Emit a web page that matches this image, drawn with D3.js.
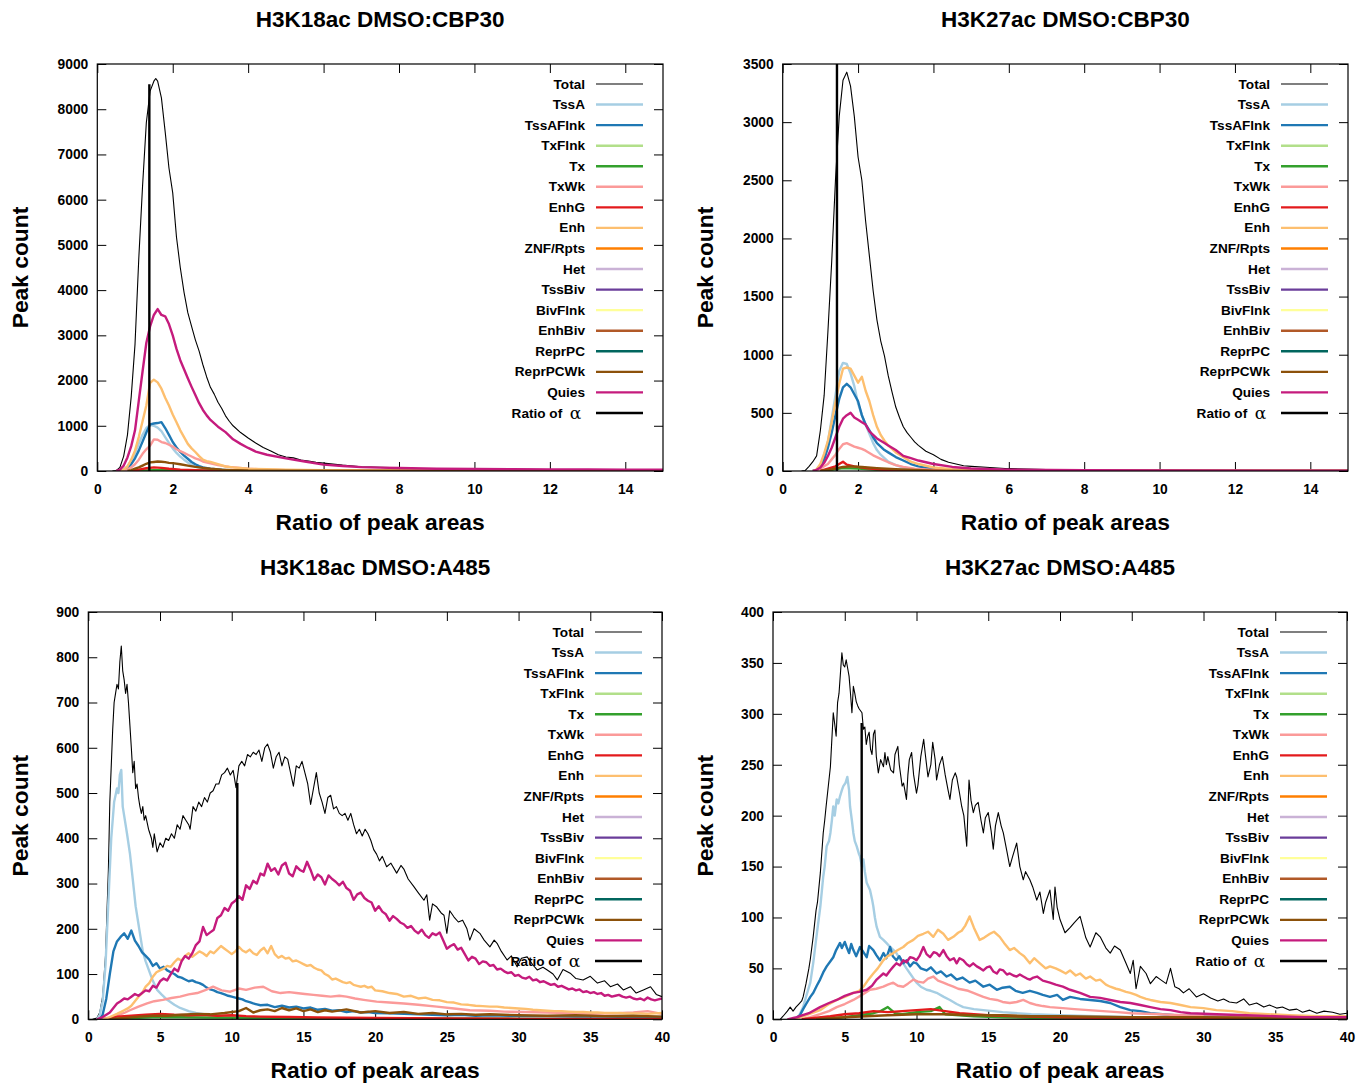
<!DOCTYPE html>
<html><head><meta charset="utf-8">
<script src="https://cdn.jsdelivr.net/npm/d3@7"></script>
<style>
body{margin:0;background:#fff;}
svg{display:block;font-family:"Liberation Sans",Arial,sans-serif;}
</style></head>
<body>
<svg id="chart" width="1372" height="1084"></svg>
<script>
// ---------- data ----------
const categories = ["Total","TssA","TssAFlnk","TxFlnk","Tx","TxWk","EnhG","Enh","ZNF/Rpts","Het","TssBiv","BivFlnk","EnhBiv","ReprPC","ReprPCWk","Quies"];
const colors = ["#000000","#a6cee3","#1f78b4","#b2df8a","#33a02c","#fb9a99","#e31a1c","#fdbf6f","#ff7f00","#cab2d6","#6a3d9a","#ffff99","#b15928","#01665e","#8c510a","#c51b7d"];
const titles = ["H3K18ac DMSO:CBP30","H3K27ac DMSO:CBP30","H3K18ac DMSO:A485","H3K27ac DMSO:A485"];
const xTicks = [[0,2,4,6,8,10,12,14],[0,2,4,6,8,10,12,14],[0,5,10,15,20,25,30,35,40],[0,5,10,15,20,25,30,35,40]];
const yTicks = [[0,1000,2000,3000,4000,5000,6000,7000,8000,9000],[0,500,1000,1500,2000,2500,3000,3500],[0,100,200,300,400,500,600,700,800,900],[0,50,100,150,200,250,300,350,400]];
const xMax = [15,15,40,40];
const ratioX = [1.38,1.44,10.39,6.18];
const ratioY = [8550,3500,522,291];

// Panel 1: H3K18ac DMSO:CBP30
const p1_Total = [[0.4,0],[0.5,10],[0.6,80],[0.7,330],[0.8,800],[0.9,1650],[1.0,2800],[1.1,4700],[1.2,6300],[1.3,7700],[1.4,8400],[1.5,8620],[1.55,8680],[1.6,8620],[1.7,8250],[1.8,7500],[1.9,6700],[2.0,6150],[2.1,5170],[2.2,4500],[2.3,3950],[2.4,3500],[2.5,3200],[2.6,2900],[2.7,2650],[2.8,2350],[2.9,2080],[3.0,1850],[3.1,1700],[3.2,1520],[3.3,1380],[3.4,1220],[3.5,1100],[3.6,1000],[3.8,850],[4.0,730],[4.2,620],[4.4,520],[4.6,440],[4.8,360],[5.0,310],[5.2,290],[5.4,240],[5.6,220],[5.8,190],[6.0,175],[6.5,130],[7.0,95],[7.5,80],[8.0,70],[8.5,55],[9.0,50],[10,40],[11,35],[12,30],[13,25],[14,22],[15,20]];
const p1_TssA = [[0.6,0],[0.7,30],[0.8,100],[0.9,230],[1.0,400],[1.1,600],[1.2,800],[1.3,950],[1.4,1020],[1.5,1000],[1.6,960],[1.7,880],[1.8,750],[1.9,620],[2.0,500],[2.1,400],[2.2,320],[2.3,250],[2.4,190],[2.5,140],[2.6,100],[2.8,60],[3.0,35],[3.5,10],[5,0],[15,0]];
const p1_TssAFlnk = [[0.6,0],[0.7,20],[0.8,60],[0.9,150],[1.0,280],[1.1,450],[1.2,650],[1.3,850],[1.4,1030],[1.5,1050],[1.6,1060],[1.7,1080],[1.8,950],[1.9,800],[2.0,640],[2.1,520],[2.2,420],[2.3,340],[2.4,270],[2.5,200],[2.6,150],[2.7,110],[2.8,80],[3.0,50],[3.5,15],[5,3],[15,0]];
const p1_Tx = [[1.0,0],[1.5,20],[2.0,15],[3.0,5],[4.0,0],[15,0]];
const p1_TxWk = [[0.7,0],[0.8,30],[0.9,80],[1.0,150],[1.1,250],[1.2,380],[1.3,480],[1.4,560],[1.5,700],[1.6,690],[1.7,640],[1.8,620],[1.9,580],[2.0,540],[2.1,480],[2.2,440],[2.3,400],[2.4,360],[2.5,320],[2.6,280],[2.7,250],[2.8,210],[3.0,170],[3.2,130],[3.5,90],[4.0,50],[4.5,30],[5,20],[6,10],[8,5],[15,2]];
const p1_EnhG = [[0.9,0],[1.1,30],[1.3,60],[1.5,80],[1.7,70],[1.9,50],[2.2,30],[2.6,15],[3,5],[4,0],[15,0]];
const p1_Enh = [[0.6,0],[0.7,30],[0.8,100],[0.9,250],[1.0,450],[1.1,750],[1.2,1100],[1.3,1450],[1.4,1950],[1.5,2020],[1.6,1960],[1.7,1820],[1.8,1620],[1.9,1450],[2.0,1250],[2.1,1080],[2.2,900],[2.3,750],[2.4,600],[2.5,500],[2.6,420],[2.7,330],[2.8,250],[2.9,220],[3.0,200],[3.2,150],[3.4,100],[3.6,80],[4.0,50],[4.5,40],[5.0,30],[6,20],[8,10],[10,8],[15,5]];
const p1_ReprPCWk = [[0.8,0],[0.9,20],[1.0,50],[1.1,80],[1.2,120],[1.3,160],[1.4,190],[1.5,200],[1.6,210],[1.7,205],[1.8,195],[1.9,180],[2.0,175],[2.2,150],[2.4,120],[2.6,90],[2.8,70],[3.0,50],[3.3,30],[3.6,20],[4,10],[5,5],[15,0]];
const p1_Quies = [[0.5,0],[0.6,30],[0.7,120],[0.8,300],[0.9,550],[1.0,900],[1.1,1550],[1.2,2200],[1.3,2830],[1.4,3200],[1.5,3450],[1.6,3580],[1.7,3450],[1.8,3420],[1.9,3250],[2.0,3000],[2.1,2700],[2.2,2450],[2.3,2250],[2.4,2050],[2.5,1860],[2.6,1680],[2.7,1500],[2.8,1350],[2.9,1230],[3.0,1130],[3.2,980],[3.4,860],[3.6,700],[3.8,600],[4.0,510],[4.2,430],[4.5,360],[5.0,280],[5.5,210],[6.0,140],[6.5,110],[7.0,85],[7.5,75],[8.0,65],[9,50],[10,45],[11,40],[12,35],[13,35],[14,30],[15,30]];

// Panel 2: H3K27ac DMSO:CBP30
const p2_Total = [[0.5,0],[0.6,5],[0.7,40],[0.8,80],[0.9,130],[1.0,350],[1.1,650],[1.2,1200],[1.3,1800],[1.4,2500],[1.5,3050],[1.6,3360],[1.7,3430],[1.8,3310],[1.9,3050],[2.0,2700],[2.1,2500],[2.2,2150],[2.3,1850],[2.4,1550],[2.5,1300],[2.6,1120],[2.7,990],[2.8,820],[2.9,680],[3.0,550],[3.1,460],[3.2,380],[3.3,330],[3.4,290],[3.5,250],[3.6,220],[3.8,170],[4.0,140],[4.2,100],[4.4,75],[4.6,60],[4.8,45],[5.0,40],[5.5,30],[6,20],[7,12],[8,8],[10,5],[12,4],[15,3]];
const p2_TssA = [[0.8,0],[0.9,10],[1.0,50],[1.1,130],[1.2,250],[1.3,450],[1.4,650],[1.5,860],[1.6,930],[1.7,920],[1.8,840],[1.9,730],[2.0,580],[2.1,480],[2.2,400],[2.3,320],[2.4,240],[2.5,180],[2.6,140],[2.7,110],[2.8,80],[3.0,50],[3.2,30],[3.5,15],[4,5],[5,0],[15,0]];
const p2_TssAFlnk = [[0.8,0],[0.9,10],[1.0,40],[1.1,100],[1.2,200],[1.3,330],[1.4,480],[1.5,620],[1.6,720],[1.7,750],[1.8,720],[1.9,660],[2.0,600],[2.1,480],[2.2,400],[2.3,350],[2.4,290],[2.5,240],[2.6,210],[2.7,180],[2.8,160],[3.0,120],[3.2,90],[3.4,60],[3.6,40],[4,15],[5,3],[6,0],[15,0]];
const p2_Tx = [[1.0,0],[1.3,10],[1.6,25],[2.0,20],[2.5,10],[3,3],[4,0],[15,0]];
const p2_TxWk = [[0.9,0],[1.0,20],[1.1,40],[1.2,60],[1.3,100],[1.4,140],[1.5,190],[1.6,230],[1.7,240],[1.8,225],[1.9,210],[2.0,200],[2.1,190],[2.2,175],[2.3,155],[2.4,135],[2.5,120],[2.6,105],[2.8,75],[3.0,50],[3.2,35],[3.5,20],[4,8],[5,0],[15,0]];
const p2_EnhG = [[1.0,0],[1.2,20],[1.4,40],[1.5,60],[1.6,80],[1.7,55],[1.9,40],[2.2,25],[2.6,12],[3,5],[4,0],[15,0]];
const p2_Enh = [[0.8,0],[0.9,15],[1.0,60],[1.1,150],[1.2,260],[1.3,420],[1.4,590],[1.5,750],[1.6,880],[1.7,890],[1.8,880],[1.9,820],[2.0,760],[2.1,810],[2.2,690],[2.3,600],[2.4,480],[2.5,380],[2.6,310],[2.7,260],[2.8,220],[2.9,190],[3.0,160],[3.2,120],[3.4,80],[3.6,60],[4.0,30],[4.5,15],[5,8],[6,3],[8,0],[15,0]];
const p2_ReprPCWk = [[1.0,0],[1.3,15],[1.6,35],[1.8,40],[2.1,35],[2.5,25],[3,15],[3.5,8],[4,3],[5,0],[15,0]];
const p2_Quies = [[0.8,0],[0.9,10],[1.0,30],[1.1,70],[1.2,130],[1.3,200],[1.4,290],[1.5,380],[1.6,450],[1.7,480],[1.8,500],[1.9,460],[2.0,440],[2.1,420],[2.2,400],[2.3,340],[2.4,310],[2.5,280],[2.6,260],[2.7,240],[2.8,220],[2.9,200],[3.0,180],[3.2,130],[3.4,110],[3.6,90],[3.8,75],[4.0,60],[4.5,35],[5,22],[6,12],[8,6],[10,4],[15,2]];

// Panel 3: H3K18ac DMSO:A485
const p3_Total = [[0.3,0],[0.6,3],[0.8,15],[1.0,50],[1.2,140],[1.4,330],[1.5,480],[1.6,560],[1.7,640],[1.8,700],[1.9,720],[2.0,740],[2.1,730],[2.2,790],[2.3,825],[2.4,770],[2.5,750],[2.6,720],[2.7,740],[2.8,700],[2.9,650],[3.0,600],[3.1,545],[3.2,570],[3.3,510],[3.4,520],[3.5,490],[3.6,470],[3.7,455],[3.8,470],[3.9,440],[4.0,450],[4.2,420],[4.4,400],[4.5,380],[4.6,410],[4.8,370],[5.0,390],[5.2,380],[5.4,400],[5.6,395],[5.8,410],[6.0,400],[6.2,430],[6.4,420],[6.6,450],[6.8,440],[7.0,430],[7.1,420],[7.3,470],[7.5,460],[7.7,480],[7.9,470],[8.1,490],[8.3,480],[8.5,500],[8.7,505],[8.9,520],[9.1,520],[9.3,540],[9.5,545],[9.7,555],[9.9,540],[10.1,550],[10.3,512],[10.5,560],[10.7,570],[10.9,560],[11.1,585],[11.3,580],[11.5,590],[11.7,585],[11.9,595],[12.1,570],[12.3,600],[12.5,608],[12.7,590],[12.9,555],[13.1,580],[13.3,590],[13.5,560],[13.7,580],[13.9,575],[14.1,545],[14.3,515],[14.5,560],[14.7,555],[14.9,570],[15.1,545],[15.3,520],[15.5,475],[15.7,510],[15.9,545],[16.1,500],[16.3,480],[16.5,455],[16.7,490],[16.9,495],[17.1,465],[17.3,470],[17.5,455],[17.7,450],[17.9,455],[18.1,440],[18.3,455],[18.5,430],[18.7,410],[18.9,420],[19.1,405],[19.3,420],[19.5,410],[19.7,395],[19.9,375],[20.1,365],[20.3,350],[20.5,360],[20.8,337],[21.1,345],[21.5,323],[21.8,340],[22.0,332],[22.3,310],[22.7,293],[23.0,280],[23.4,263],[23.6,275],[23.8,219],[24.0,255],[24.3,248],[24.6,235],[24.8,230],[25.0,190],[25.2,240],[25.5,226],[25.8,215],[26.1,219],[26.4,200],[26.6,175],[26.9,200],[27.3,190],[27.6,175],[28.0,160],[28.3,175],[28.5,168],[28.8,150],[29.2,131],[29.5,140],[29.9,116],[30.2,135],[30.6,138],[31.0,120],[31.3,109],[31.7,115],[32.0,109],[32.4,100],[32.7,87],[33.1,110],[33.6,102],[34.0,90],[34.5,87],[35.0,95],[35.5,80],[36.0,85],[36.4,72],[36.9,78],[37.3,65],[37.8,72],[38.2,58],[38.7,65],[39.2,72],[39.6,55],[40,50]];
const p3_TssA = [[0.6,0],[0.8,10],[1.0,40],[1.2,120],[1.4,260],[1.6,400],[1.8,480],[2.0,510],[2.1,500],[2.2,540],[2.3,551],[2.4,470],[2.5,450],[2.7,410],[2.9,367],[3.1,310],[3.3,250],[3.5,210],[3.6,190],[3.8,150],[4.0,128],[4.3,102],[4.5,85],[4.8,65],[5.1,55],[5.5,43],[6.0,32],[6.4,25],[7.0,18],[7.5,14],[8.5,9],[10,5],[12,3],[15,2],[20,1],[40,0]];
const p3_TssAFlnk = [[0.8,0],[1.0,10],[1.25,45],[1.5,100],[1.75,150],[2.0,172],[2.25,182],[2.5,190],[2.75,178],[3.0,196],[3.25,174],[3.5,162],[3.75,148],[4.0,140],[4.25,132],[4.5,118],[4.75,124],[5.0,112],[5.25,116],[5.5,108],[5.75,104],[6.0,100],[6.25,94],[6.5,92],[6.75,88],[7.0,84],[7.25,86],[7.5,82],[7.75,80],[8.0,76],[8.25,70],[8.5,66],[8.75,64],[9.0,60],[9.25,58],[9.5,55],[9.75,52],[10.0,50],[10.25,48],[10.5,46],[10.75,44],[11.0,40],[11.25,38],[11.5,35],[11.75,33],[12.0,31],[12.5,32],[13.0,27],[13.5,30],[14.0,26],[14.5,28],[15.0,24],[15.5,26],[16.0,21],[16.5,23],[17.0,19],[17.5,20],[18.0,16],[18.5,18],[19.0,15],[19.5,16],[20,14],[21,13],[22,12],[23,11],[24,10],[25,9],[26,10],[27,8],[28,9],[30,7],[32,7],[34,6],[36,6],[38,5],[40,5]];
const p3_Tx = [[1.5,0],[3,3],[5,5],[8,4],[12,3],[20,2],[30,1],[40,1]];
const p3_TxWk = [[1.0,0],[1.5,3],[2.0,8],[2.5,14],[2.9,20],[3.5,28],[4.1,35],[4.6,40],[5.2,43],[5.8,47],[6.4,50],[7.0,55],[7.6,58],[8.2,65],[8.7,72],[9.3,64],[9.9,61],[10.5,68],[11.0,65],[11.6,70],[12.2,72],[12.8,62],[13.4,58],[14.0,60],[14.5,58],[15.1,56],[15.7,54],[16.3,52],[16.9,50],[17.5,52],[18.0,50],[18.6,46],[19.2,43],[20.1,39],[21,37],[22,35],[23,32],[24.3,28],[25.5,24],[26.6,20],[28,19],[29,17],[30.5,16],[32,15],[33.5,14],[35,12],[36.5,13],[38,15],[39,18],[40,12]];
const p3_EnhG = [[1.0,0],[1.5,3],[2,6],[3,8],[4,10],[5,12],[6,10],[7,9],[8,10],[9,8],[10,9],[11,7],[12,6],[14,5],[16,4],[20,3],[25,2],[30,1],[40,1]];
const p3_Enh = [[1.0,0],[1.5,5],[2.0,12],[2.25,16],[2.5,20],[2.75,24],[3.0,30],[3.25,40],[3.5,50],[3.75,58],[4.0,72],[4.25,80],[4.5,94],[4.75,104],[5.0,108],[5.25,112],[5.5,118],[5.75,116],[6.0,126],[6.25,134],[6.5,130],[6.75,140],[7.0,146],[7.25,138],[7.5,144],[7.75,150],[8.0,146],[8.25,140],[8.5,150],[8.75,146],[9.0,154],[9.25,162],[9.5,156],[9.75,150],[10.0,144],[10.25,150],[10.5,160],[10.75,152],[11.0,148],[11.25,154],[11.5,146],[11.75,142],[12.0,152],[12.25,158],[12.5,146],[12.75,162],[13.0,144],[13.25,136],[13.5,140],[13.75,134],[14.0,136],[14.25,128],[14.5,130],[14.75,126],[15.0,122],[15.25,118],[15.5,120],[15.75,114],[16.0,110],[16.25,108],[16.5,100],[16.75,96],[17.0,88],[17.25,90],[17.5,86],[17.75,82],[18.0,80],[18.25,82],[18.5,76],[18.75,74],[19.0,72],[19.25,74],[19.5,70],[19.75,72],[20.0,64],[20.5,62],[21.0,58],[21.5,56],[22.0,50],[22.5,52],[23.0,46],[23.5,48],[24.0,43],[24.5,42],[25.0,38],[25.5,37],[26.0,33],[26.5,32],[27.0,30],[27.5,29],[28.0,28],[28.5,28],[29.0,26],[29.5,25],[30.0,24],[30.5,23],[31.0,21],[31.5,20],[32.0,19],[32.5,18],[33.0,18],[33.5,17],[34.0,16],[34.5,16],[35.0,15],[35.5,15],[36.0,14],[36.5,14],[37.0,14],[37.5,13],[38.0,13],[38.5,13],[39.0,12],[39.5,13],[40.0,14]];
const p3_ReprPCWk = [[1.5,0],[2.5,3],[3.5,6],[4.5,8],[5.5,8],[6.5,10],[7.5,12],[8.5,11],[9.5,14],[10.5,18],[11.0,25],[11.5,15],[12.0,20],[12.5,22],[13.0,18],[13.5,25],[14.0,20],[14.5,24],[15.0,18],[15.5,22],[16,16],[16.5,20],[17,17],[18,22],[19,15],[20,18],[21,14],[22,16],[23,12],[24,14],[25,11],[26,12],[27,10],[28,11],[30,9],[32,8],[34,9],[36,7],[38,8],[40,6]];
const p3_Quies = [[0.6,0],[1.0,5],[1.5,15],[2.0,35],[2.25,40],[2.5,46],[2.75,44],[3.0,50],[3.25,56],[3.5,52],[3.75,58],[4.0,64],[4.25,62],[4.5,74],[4.75,70],[5.0,84],[5.25,90],[5.5,86],[5.75,100],[6.0,112],[6.25,106],[6.5,128],[6.75,140],[7.0,134],[7.25,146],[7.5,164],[7.75,172],[8.0,204],[8.25,186],[8.5,192],[8.75,198],[9.0,224],[9.25,230],[9.5,246],[9.75,240],[10.0,256],[10.25,262],[10.5,272],[10.75,264],[11.0,296],[11.25,288],[11.5,306],[11.75,300],[12.0,322],[12.25,318],[12.5,344],[12.75,328],[13.0,334],[13.25,320],[13.5,340],[13.75,346],[14.0,322],[14.25,316],[14.5,338],[14.75,330],[15.0,326],[15.25,348],[15.5,330],[15.75,308],[16.0,320],[16.25,314],[16.5,298],[16.75,318],[17.0,310],[17.25,304],[17.5,296],[17.75,304],[18.0,290],[18.25,284],[18.5,264],[18.75,276],[19.0,280],[19.25,268],[19.5,262],[19.75,258],[20.0,240],[20.25,250],[20.5,238],[20.75,232],[21.0,218],[21.25,228],[21.5,222],[21.75,214],[22.0,210],[22.25,202],[22.5,206],[22.75,196],[23.0,190],[23.25,198],[23.5,186],[23.75,180],[24.0,190],[24.25,186],[24.5,192],[24.75,174],[25.0,156],[25.25,162],[25.5,166],[25.75,154],[26.0,158],[26.25,144],[26.5,130],[26.75,138],[27.0,134],[27.25,122],[27.5,128],[27.75,126],[28.0,118],[28.25,120],[28.5,110],[28.75,112],[29.0,106],[29.25,102],[29.5,104],[29.75,96],[30.0,98],[30.25,92],[30.5,90],[30.75,94],[31.0,86],[31.25,88],[31.5,82],[31.75,84],[32.0,80],[32.25,76],[32.5,78],[32.75,72],[33.0,74],[33.25,70],[33.5,66],[33.75,68],[34.0,64],[34.25,66],[34.5,60],[34.75,62],[35.0,58],[35.25,60],[35.5,56],[35.75,58],[36.0,52],[36.25,54],[36.5,50],[36.75,52],[37.0,54],[37.25,50],[37.5,48],[37.75,50],[38.0,46],[38.25,44],[38.5,46],[38.75,42],[39.0,48],[39.25,44],[39.5,42],[39.75,44],[40.0,46]];

// Panel 4: H3K27ac DMSO:A485
const p4_Total = [[0.5,0],[0.7,3],[1.0,8],[1.2,12],[1.4,8],[1.6,12],[1.8,15],[2.0,18],[2.1,22],[2.3,35],[2.5,50],[2.6,59],[2.8,81],[3.0,107],[3.1,115],[3.3,144],[3.5,183],[3.6,195],[3.7,209],[3.9,235],[4.0,248],[4.2,301],[4.3,290],[4.4,278],[4.5,311],[4.6,320],[4.7,340],[4.8,360],[4.9,348],[5.0,346],[5.1,353],[5.2,345],[5.3,337],[5.4,320],[5.5,301],[5.6,327],[5.7,320],[5.8,312],[5.9,308],[6.0,305],[6.2,301],[6.3,285],[6.4,287],[6.5,270],[6.6,278],[6.7,282],[6.8,265],[6.9,260],[7.0,280],[7.1,284],[7.2,258],[7.34,242],[7.5,255],[7.7,248],[7.8,262],[7.9,250],[8.0,258],[8.2,245],[8.4,242],[8.5,260],[8.7,268],[8.8,250],[9.0,229],[9.1,232],[9.3,216],[9.4,240],[9.5,255],[9.66,262],[9.8,240],[10.0,222],[10.1,230],[10.3,258],[10.5,275],[10.6,262],[10.8,238],[11.0,250],[11.13,272],[11.3,255],[11.4,235],[11.6,250],[11.8,258],[12.0,240],[12.2,225],[12.33,216],[12.5,235],[12.7,242],[12.8,238],[13.0,222],[13.15,209],[13.3,200],[13.5,170],[13.66,235],[13.8,215],[13.96,203],[14.1,210],[14.3,213],[14.5,195],[14.66,183],[14.8,198],[15.0,203],[15.2,185],[15.35,167],[15.5,190],[15.7,203],[15.9,190],[16.05,183],[16.3,165],[16.5,150],[16.7,160],[16.98,173],[17.2,150],[17.44,137],[17.6,145],[17.9,137],[18.1,130],[18.38,117],[18.6,125],[18.84,104],[19.0,115],[19.3,127],[19.53,98],[19.65,130],[19.8,110],[20.0,98],[20.35,85],[20.7,90],[21.0,95],[21.4,101],[21.8,80],[22.1,71],[22.5,85],[22.8,81],[23.2,70],[23.5,65],[23.8,72],[24.2,68],[24.6,55],[24.9,45],[25.1,58],[25.3,30],[25.6,52],[26.0,45],[26.3,35],[26.7,42],[27.0,39],[27.4,35],[27.7,50],[28.0,32],[28.3,30],[28.6,26],[29.0,30],[29.5,22],[30.0,25],[30.5,21],[31.0,18],[31.4,20],[31.8,17],[32.3,16],[32.8,20],[33.2,14],[33.7,16],[34.2,12],[34.6,14],[35.1,11],[35.5,12],[36.0,9],[36.5,10],[36.9,7],[37.4,9],[37.9,6],[38.4,8],[39.0,7],[39.5,5],[40,6]];
const p4_TssA = [[1.5,0],[1.8,3],[2.1,12],[2.3,22],[2.6,36],[2.8,55],[3.0,78],[3.2,100],[3.3,111],[3.5,140],[3.6,150],[3.74,170],[3.9,175],[4.0,183],[4.1,195],[4.2,209],[4.3,200],[4.44,216],[4.55,212],[4.67,219],[4.8,225],[4.9,229],[5.05,232],[5.18,238],[5.3,225],[5.37,209],[5.5,195],[5.6,183],[5.7,175],[5.83,170],[6.0,162],[6.06,160],[6.2,150],[6.3,157],[6.4,145],[6.53,134],[6.76,127],[6.9,118],[6.99,111],[7.1,100],[7.22,91],[7.45,81],[7.69,78],[7.9,75],[8.16,71],[8.4,68],[8.6,65],[8.8,60],[9.08,55],[9.3,50],[9.55,45],[9.8,40],[10.0,36],[10.3,32],[10.7,29],[11.0,28],[11.4,26],[11.9,22],[12.33,19],[12.8,15],[13.26,12],[14.0,10],[14.66,9],[16,7],[18,5],[20,4],[25,2],[30,1],[40,0]];
const p4_TssAFlnk = [[1.5,0],[1.88,4],[2.1,10],[2.35,16],[2.6,22],[2.81,26],[3.05,33],[3.28,39],[3.5,46],[3.74,52],[4.0,57],[4.2,61],[4.4,68],[4.67,75],[4.8,70],[5.0,76],[5.13,71],[5.3,65],[5.45,74],[5.6,68],[5.8,62],[6.06,71],[6.3,66],[6.53,61],[6.7,72],[6.99,68],[7.2,63],[7.45,58],[7.7,65],[7.9,60],[8.16,71],[8.35,62],[8.6,58],[8.8,62],[9.08,55],[9.3,58],[9.55,52],[9.8,56],[10.0,55],[10.3,50],[10.7,48],[11.0,51],[11.4,45],[11.7,47],[12.1,42],[12.4,44],[12.8,39],[13.2,41],[13.7,36],[14.1,38],[14.66,32],[15.1,34],[15.6,29],[16.0,31],[16.5,32],[16.9,28],[17.4,26],[17.9,28],[18.4,26],[18.8,24],[19.3,22],[19.8,24],[20.2,19],[20.7,22],[21.4,20],[22.1,19],[22.8,18],[23.5,16],[24.2,12],[24.9,9],[25.6,8],[26.3,6],[28,4],[30,3],[33,2],[36,2],[40,1]];
const p4_Tx = [[3,0],[5,2],[6,4],[7,6],[7.5,8],[8,12],[8.5,6],[9,5],[10,7],[11,8],[11.6,12],[12,5],[13,4],[14,3],[16,2],[20,1],[30,0],[40,0]];
const p4_TxWk = [[2.0,0],[2.6,2],[3.28,5],[3.9,8],[4.44,12],[5.0,15],[5.6,19],[6.2,24],[6.76,29],[7.2,30],[7.69,32],[8.0,34],[8.38,36],[8.7,33],[9.08,32],[9.4,35],[9.78,39],[10.1,37],[10.48,36],[10.8,40],[11.17,42],[11.5,38],[11.87,36],[12.2,34],[12.57,32],[12.9,30],[13.26,29],[13.6,28],[13.96,26],[14.3,24],[14.66,22],[15.1,20],[15.6,19],[16.0,17],[16.5,16],[16.98,17],[17.44,19],[17.9,16],[18.4,14],[18.8,13],[19.3,12],[20.2,11],[21,10],[22,9],[23,8],[24,7],[25,6],[27,5],[30,3],[33,2],[36,2],[40,1]];
const p4_EnhG = [[2,0],[4,3],[5,5],[6,6],[7,8],[8,7],[9,8],[10,9],[11,10],[12,8],[13,6],[14,5],[15,4],[17,3],[20,2],[25,1],[40,0]];
const p4_Enh = [[1.5,0],[2.11,3],[2.7,6],[3.28,9],[3.8,14],[4.44,19],[5.0,22],[5.6,26],[6.0,28],[6.3,32],[6.6,38],[6.99,45],[7.3,50],[7.69,58],[8.0,62],[8.38,65],[8.7,68],[9.08,71],[9.4,75],[9.78,78],[10.1,82],[10.48,84],[10.8,86],[11.17,81],[11.5,88],[11.87,84],[12.2,78],[12.57,81],[12.9,85],[13.15,87],[13.4,92],[13.7,101],[14.0,90],[14.4,78],[14.7,80],[15.12,84],[15.4,86],[15.8,81],[16.1,75],[16.5,68],[16.8,70],[17.2,65],[17.5,62],[17.9,55],[18.2,60],[18.6,55],[19.0,50],[19.3,52],[19.7,50],[20.0,48],[20.4,45],[20.7,48],[21.1,43],[21.4,45],[21.8,40],[22.1,42],[22.5,38],[22.8,39],[23.2,34],[23.5,32],[23.9,30],[24.2,29],[24.6,27],[24.9,26],[25.3,24],[25.6,22],[26.0,20],[26.3,19],[27.0,17],[27.7,16],[28.4,14],[29.1,12],[30,11],[30.9,9],[32,8],[33.2,6],[34.5,5],[36,4],[38,3],[40,3]];
const p4_ReprPCWk = [[3,0],[5,2],[8,4],[10,5],[12,5],[14,4],[16,4],[18,3],[20,3],[25,2],[30,2],[40,1]];
const p4_Quies = [[1.0,0],[1.65,2],[2.5,6],[3.28,12],[3.9,16],[4.44,19],[5.0,23],[5.6,26],[6.0,27],[6.53,29],[6.9,33],[7.22,39],[7.45,42],[7.69,45],[7.9,43],[8.16,48],[8.4,52],[8.6,55],[8.85,53],[9.08,58],[9.3,56],[9.55,61],[9.8,60],[10.0,58],[10.2,62],[10.48,71],[10.7,64],[10.94,61],[11.2,66],[11.4,65],[11.6,62],[11.87,68],[12.1,62],[12.33,58],[12.6,60],[12.8,55],[13.0,60],[13.26,58],[13.5,54],[13.7,52],[13.95,55],[14.2,52],[14.45,50],[14.66,48],[14.9,51],[15.12,52],[15.35,47],[15.6,45],[15.8,49],[16.05,48],[16.3,44],[16.5,45],[16.75,43],[16.98,42],[17.2,44],[17.44,42],[17.7,40],[17.9,39],[18.15,41],[18.4,42],[18.8,38],[19.3,36],[19.7,34],[20.2,32],[20.7,29],[21.4,26],[22.1,22],[22.8,21],[23.5,19],[24.2,17],[24.9,16],[25.6,14],[26.3,12],[27.0,10],[27.7,9],[28.4,7],[29.1,6],[30.9,5],[33,4],[35,3],[37,2],[40,2]];

// ---------- layout ----------
const panelData = [
  {Total:p1_Total,TssA:p1_TssA,TssAFlnk:p1_TssAFlnk,Tx:p1_Tx,TxWk:p1_TxWk,EnhG:p1_EnhG,Enh:p1_Enh,ReprPCWk:p1_ReprPCWk,Quies:p1_Quies},
  {Total:p2_Total,TssA:p2_TssA,TssAFlnk:p2_TssAFlnk,Tx:p2_Tx,TxWk:p2_TxWk,EnhG:p2_EnhG,Enh:p2_Enh,ReprPCWk:p2_ReprPCWk,Quies:p2_Quies},
  {Total:p3_Total,TssA:p3_TssA,TssAFlnk:p3_TssAFlnk,Tx:p3_Tx,TxWk:p3_TxWk,EnhG:p3_EnhG,Enh:p3_Enh,ReprPCWk:p3_ReprPCWk,Quies:p3_Quies},
  {Total:p4_Total,TssA:p4_TssA,TssAFlnk:p4_TssAFlnk,Tx:p4_Tx,TxWk:p4_TxWk,EnhG:p4_EnhG,Enh:p4_Enh,ReprPCWk:p4_ReprPCWk,Quies:p4_Quies}
];
const boxes = [
  {l:97.3, r:663, t:64, b:471, titleY:19, labX:20},
  {l:782.7, r:1348, t:64, b:471, titleY:19, labX:705},
  {l:88.3, r:662, t:612, b:1019.3, titleY:567, labX:20},
  {l:773, r:1347, t:612, b:1019.3, titleY:567, labX:705}
];

const svg = d3.select("#chart");
const TICK = 9;
const FONT = "'Liberation Sans',Arial,sans-serif";

boxes.forEach((bx, i) => {
  const x = d3.scaleLinear().domain([0, xMax[i]]).range([bx.l, bx.r]);
  const yT = yTicks[i];
  const y = d3.scaleLinear().domain([0, yT[yT.length-1]]).range([bx.b, bx.t]);
  const g = svg.append("g");
  const cx = (bx.l + bx.r) / 2;

  g.append("text").attr("x", cx).attr("y", bx.titleY).attr("text-anchor","middle")
    .attr("dominant-baseline","central").attr("font-size",22.5).attr("font-weight","bold").text(titles[i]);
  g.append("text").attr("x", cx).attr("y", bx.b + 51).attr("text-anchor","middle")
    .attr("dominant-baseline","central").attr("font-size",22.8).attr("font-weight","bold").text("Ratio of peak areas");
  const ly = (bx.t + bx.b) / 2;
  g.append("text").attr("transform",`translate(${bx.labX},${ly}) rotate(-90)`).attr("text-anchor","middle")
    .attr("dominant-baseline","central").attr("font-size",22.8).attr("font-weight","bold").text("Peak count");

  const axB = d3.axisBottom(x).tickValues(xTicks[i]).tickSize(-TICK).tickPadding(13).tickFormat(d3.format("d"));
  const axT = d3.axisTop(x).tickValues(xTicks[i]).tickSize(-TICK).tickFormat("");
  const axL = d3.axisLeft(y).tickValues(yT).tickSize(-TICK).tickPadding(9).tickFormat(d3.format("d"));
  const axR = d3.axisRight(y).tickValues(yT).tickSize(-TICK).tickFormat("");
  const styleAxis = sel => {
    sel.select(".domain").remove();
    sel.selectAll("line").attr("stroke","#000").attr("stroke-width",1);
    sel.selectAll("text").attr("font-size",13.8).attr("font-weight","bold").attr("fill","#000")
      .attr("font-family",FONT);
  };
  g.append("g").attr("transform",`translate(0,${bx.b})`).call(axB).call(styleAxis);
  g.append("g").attr("transform",`translate(0,${bx.t})`).call(axT).call(styleAxis);
  g.append("g").attr("transform",`translate(${bx.l},0)`).call(axL).call(styleAxis);
  g.append("g").attr("transform",`translate(${bx.r},0)`).call(axR).call(styleAxis);

  const cid = "clip" + i;
  svg.append("clipPath").attr("id", cid).append("rect")
    .attr("x", bx.l).attr("y", bx.t).attr("width", bx.r - bx.l).attr("height", bx.b - bx.t);
  const plot = g.append("g").attr("clip-path", `url(#${cid})`);
  const line = d3.line().x(d => x(d[0])).y(d => y(d[1]));
  categories.forEach((c, k) => {
    const data = panelData[i][c];
    if (!data) return;
    plot.append("path").datum(data).attr("d", line).attr("fill","none")
      .attr("stroke", colors[k]).attr("stroke-width", c === "Total" ? 1.1 : 2.4)
      .attr("stroke-linejoin","round");
  });
  plot.append("line").attr("x1", x(ratioX[i])).attr("x2", x(ratioX[i]))
    .attr("y1", y(0)).attr("y2", y(ratioY[i])).attr("stroke","#000").attr("stroke-width",2.4);

  g.append("rect").attr("x", bx.l).attr("y", bx.t).attr("width", bx.r - bx.l).attr("height", bx.b - bx.t)
    .attr("fill","none").attr("stroke","#000").attr("stroke-width",1.2);

  const lg = g.append("g");
  const rowH = 20.56;
  const names = categories.concat(["Ratio of"]);
  names.forEach((nm, k) => {
    const yy = bx.t + 20 + k * rowH;
    const t = lg.append("text").attr("x", bx.r - 78).attr("y", yy).attr("text-anchor","end")
      .attr("dominant-baseline","central").attr("font-size",13.6).attr("font-weight","bold");
    if (k < categories.length) {
      t.text(nm);
      lg.append("line").attr("x1", bx.r - 67).attr("x2", bx.r - 20).attr("y1", yy).attr("y2", yy)
        .attr("stroke", colors[k]).attr("stroke-width", k === 0 ? 1.1 : 2.4);
    } else {
      t.append("tspan").text("Ratio of\u00A0\u00A0");
      t.append("tspan").attr("font-weight","normal").attr("font-size",17).attr("font-family","'DejaVu Serif',serif").text("\u03B1");
      t.append("tspan").text("\u00A0");
      lg.append("line").attr("x1", bx.r - 67).attr("x2", bx.r - 20).attr("y1", yy).attr("y2", yy)
        .attr("stroke", "#000").attr("stroke-width", 2.4);
    }
  });
});
</script>
</body></html>
